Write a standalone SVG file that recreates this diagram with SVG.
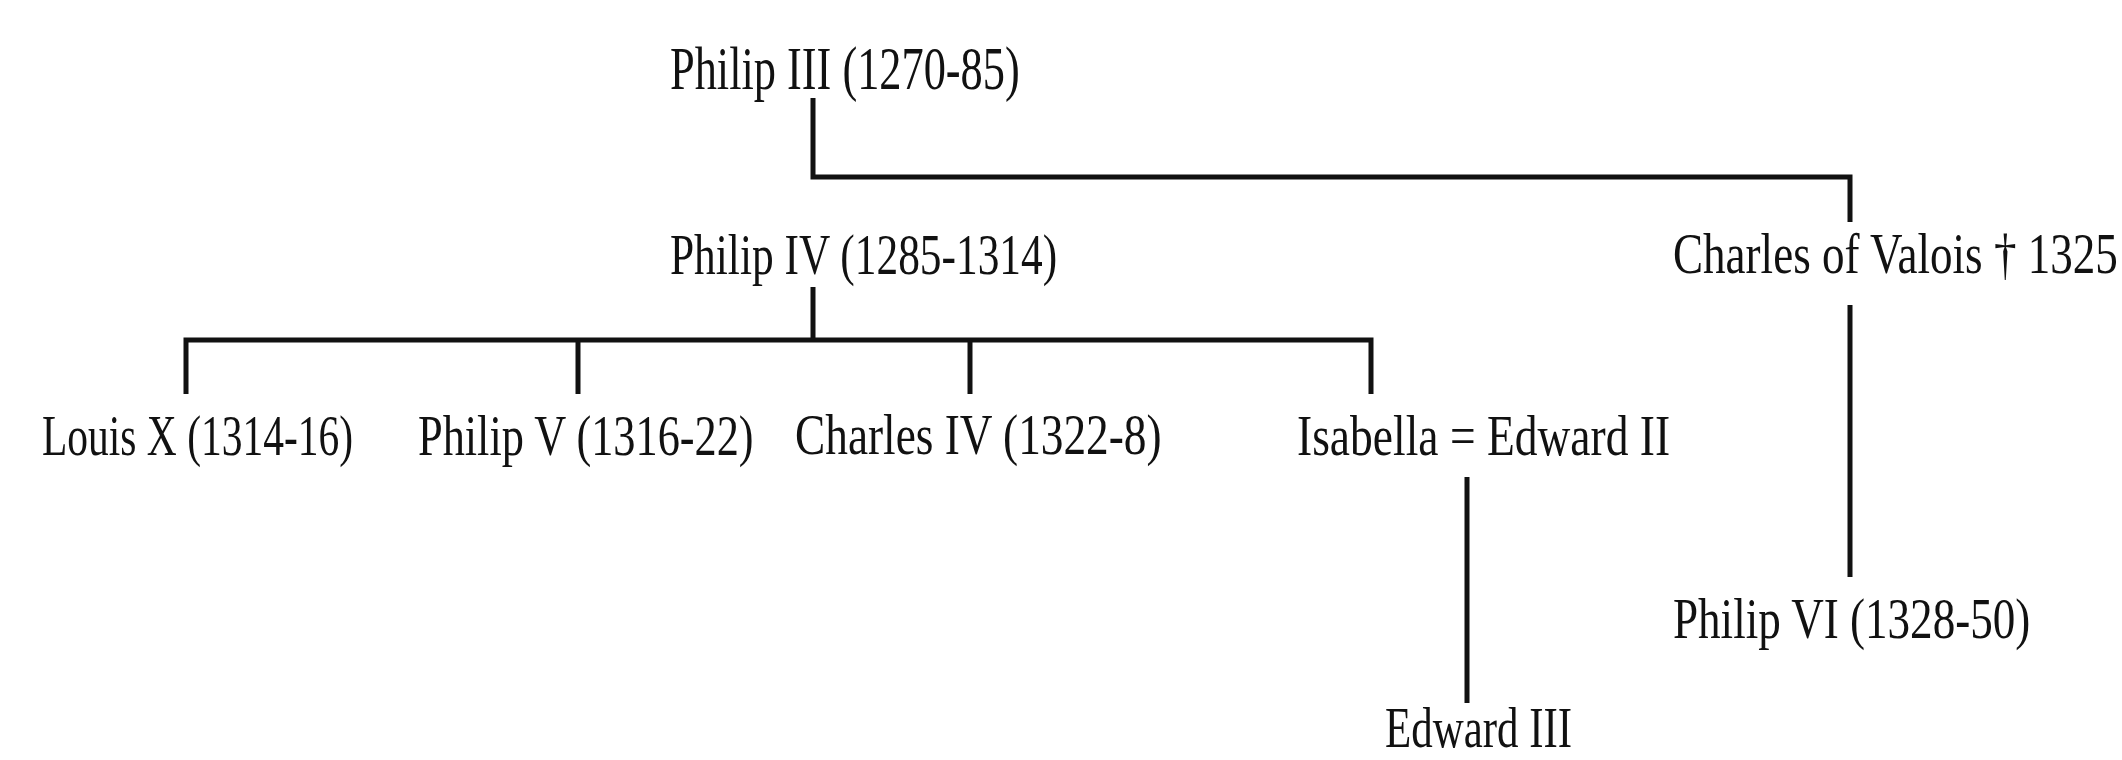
<svg xmlns="http://www.w3.org/2000/svg" width="2122" height="760" viewBox="0 0 2122 760">
<style>
.bg{fill:#ffffff}
.lbl{font-family:"Liberation Serif","Times New Roman",serif;font-size:58px;fill:#111111}
.ln{fill:none;stroke:#111111;stroke-width:5;stroke-linejoin:miter;stroke-linecap:butt}
</style>
<rect class="bg" x="0" y="0" width="2122" height="760"/>
<g id="connectors">
<path class="ln" d="M813 98 V177 H1850 V222"/>
<path class="ln" d="M813 287 V340"/>
<path class="ln" d="M186 394 V340 H1371 V394"/>
<path class="ln" d="M578 340 V394"/>
<path class="ln" d="M970 340 V394"/>
<path class="ln" d="M1467 477 V703"/>
<path class="ln" d="M1850 305 V577"/>
</g>
<g id="philip3" transform="translate(670,89) scale(0.727,1)"><text class="lbl" x="0" y="0" style="font-size:61px" textLength="481" lengthAdjust="spacingAndGlyphs">Philip III (1270-85)</text></g>
<g id="philip4" transform="translate(670,274) scale(0.746,1)"><text class="lbl" x="0" y="0" textLength="519" lengthAdjust="spacingAndGlyphs">Philip IV (1285-1314)</text></g>
<g id="charlesvalois" transform="translate(1673,273) scale(0.767,1)"><text class="lbl" x="0" y="0" textLength="580" lengthAdjust="spacingAndGlyphs">Charles of Valois † 1325</text></g>
<g id="louis10" transform="translate(42,455) scale(0.715,1)"><text class="lbl" x="0" y="0" textLength="435" lengthAdjust="spacingAndGlyphs">Louis X (1314-16)</text></g>
<g id="philip5" transform="translate(418,455) scale(0.761,1)"><text class="lbl" x="0" y="0" textLength="441" lengthAdjust="spacingAndGlyphs">Philip V (1316-22)</text></g>
<g id="charles4" transform="translate(795,454) scale(0.780,1)"><text class="lbl" x="0" y="0" textLength="470" lengthAdjust="spacingAndGlyphs">Charles IV (1322-8)</text></g>
<g id="isabella" transform="translate(1297,455) scale(0.784,1)"><text class="lbl" x="0" y="0" textLength="476" lengthAdjust="spacingAndGlyphs">Isabella = Edward II</text></g>
<g id="philip6" transform="translate(1673,638) scale(0.775,1)"><text class="lbl" x="0" y="0" textLength="461" lengthAdjust="spacingAndGlyphs">Philip VI (1328-50)</text></g>
<g id="edward3" transform="translate(1385,747) scale(0.770,1)"><text class="lbl" x="0" y="0" style="font-size:56px" textLength="243" lengthAdjust="spacingAndGlyphs">Edward III</text></g>
</svg>
